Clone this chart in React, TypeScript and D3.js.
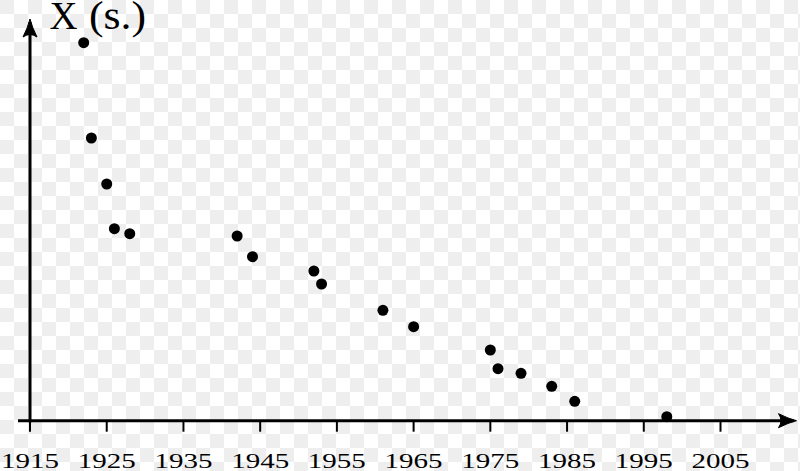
import React from "react";
import * as d3 from "d3";

const years = [1922, 1923, 1925, 1926, 1928, 1942, 1944, 1952, 1953, 1961, 1965, 1975, 1976, 1979, 1983, 1986, 1998];
const values = [378, 282.7, 236.7, 192, 187, 184.7, 164, 149.7, 136.7, 110.4, 94, 70.7, 52, 47.4, 34.4, 19.4, 4];
const tickYears = [1915, 1925, 1935, 1945, 1955, 1965, 1975, 1985, 1995, 2005];
const yLabelMain = "X";
const yLabelUnit = "(s.)";

const W = 800;
const H = 471;

export default function App() {
  const x = d3.scaleLinear().domain([1915, 2005]).range([30, 720.5]);
  const y = d3.scaleLinear().domain([0, 400]).range([420.7, 20.7]);
  const y0 = y(0);
  const x0 = x(1915);
  const font = "'Liberation Serif', 'DejaVu Serif', serif";

  const axisEndX = 796.5;
  const axisTopY = 19;

  return (
    <svg width={W} height={H} style={{ position: "absolute", left: 0, top: 0 }}>
      <defs>
        <pattern id="chk" width={28} height={28} patternUnits="userSpaceOnUse">
          <rect width={28} height={28} fill="#ffffff" />
          <rect x={0} y={0} width={14} height={14} fill="#eeeeee" />
          <rect x={14} y={14} width={14} height={14} fill="#eeeeee" />
        </pattern>
      </defs>
      <rect width={W} height={H} fill="url(#chk)" />

      {/* x axis */}
      <line x1={18} x2={axisEndX - 3} y1={y0} y2={y0} stroke="#000" strokeWidth={3} />
      <path
        d={`M${axisEndX - 18},${y0 - 7} Q${axisEndX - 8},${y0 - 2} ${axisEndX},${y0} Q${axisEndX - 8},${y0 + 2} ${axisEndX - 18},${y0 + 7} Q${axisEndX - 13},${y0} ${axisEndX - 18},${y0 - 7} Z`}
        fill="#000"
        stroke="#000"
        strokeWidth={1}
        strokeLinejoin="round"
      />
      {/* y axis */}
      <line x1={x0} x2={x0} y1={y0 + 1.5} y2={axisTopY + 3} stroke="#000" strokeWidth={3} />
      <path
        d={`M${x0 - 7},${axisTopY + 18} Q${x0 - 2},${axisTopY + 8} ${x0},${axisTopY} Q${x0 + 2},${axisTopY + 8} ${x0 + 7},${axisTopY + 18} Q${x0},${axisTopY + 13} ${x0 - 7},${axisTopY + 18} Z`}
        fill="#000"
        stroke="#000"
        strokeWidth={1}
        strokeLinejoin="round"
      />

      {/* ticks and labels */}
      {tickYears.map((t) => (
        <g key={t}>
          <line x1={x(t)} x2={x(t)} y1={y0} y2={y0 + 11} stroke="#000" strokeWidth={2} />
          <text
            x={x(t) - 29}
            y={467.5}
            fontFamily={font}
            fontSize={22}
            textLength={58}
            lengthAdjust="spacingAndGlyphs"
            fill="#000"
          >
            {String(t)}
          </text>
        </g>
      ))}

      {/* y label */}
      <text x={49.5} y={28.5} fontFamily={font} fontSize={39} textLength={28} lengthAdjust="spacingAndGlyphs" fill="#000">
        {yLabelMain}
      </text>
      <text x={89} y={29} fontFamily={font} fontSize={39} textLength={57} lengthAdjust="spacingAndGlyphs" fill="#000">
        {yLabelUnit}
      </text>

      {/* points */}
      {years.map((yr, i) => (
        <circle key={yr} cx={x(yr)} cy={y(values[i])} r={5.5} fill="#000" />
      ))}
    </svg>
  );
}
